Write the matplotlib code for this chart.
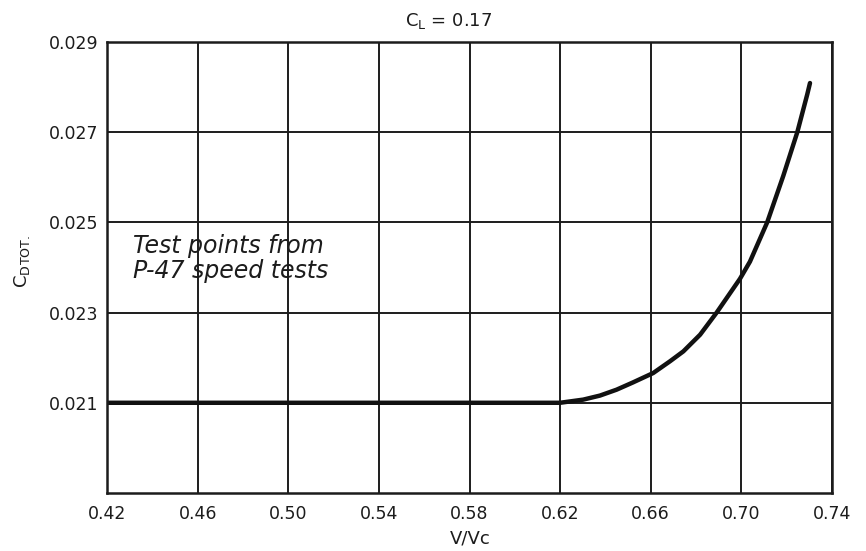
import matplotlib
matplotlib.use("Agg")
import matplotlib.pyplot as plt

# Data
v_ratio = [0.42, 0.62, 0.6302, 0.6376, 0.6449, 0.6521, 0.6611, 0.6685, 0.6744, 0.6818,
           0.6891, 0.6994, 0.7038, 0.7114, 0.7185, 0.7247, 0.7291, 0.7303]
cd_tot = [0.02100, 0.02100, 0.02107, 0.02116, 0.02129, 0.02145, 0.02166, 0.02192, 0.02214, 0.02251,
          0.02300, 0.02375, 0.02413, 0.02500, 0.02603, 0.02700, 0.02784, 0.02809]

x_ticks = [0.42, 0.46, 0.50, 0.54, 0.58, 0.62, 0.66, 0.70, 0.74]
x_tick_labels = ["0.42", "0.46", "0.50", "0.54", "0.58", "0.62", "0.66", "0.70", "0.74"]
y_ticks = [0.021, 0.023, 0.025, 0.027, 0.029]
y_tick_labels = ["0.021", "0.023", "0.025", "0.027", "0.029"]

ink = "#1c1c1c"
plt.rcParams['font.family'] = ['DejaVu Sans']

fig = plt.figure(figsize=(8.66, 5.51), dpi=100)
fig.patch.set_facecolor("white")
ax = fig.add_axes([0.1236, 0.1053, 0.8371, 0.8185])
ax.set_xlim(0.42, 0.74)
ax.set_ylim(0.019, 0.029)

ax.set_xticks(x_ticks)
ax.set_xticklabels(x_tick_labels)
ax.set_yticks(y_ticks)
ax.set_yticklabels(y_tick_labels)
ax.tick_params(length=0, labelsize=12.5, colors=ink)
ax.tick_params(axis="x", pad=9)
ax.tick_params(axis="y", pad=6)
for s in ax.spines.values():
    s.set_linewidth(1.8)
    s.set_color(ink)

ax.grid(True, color=ink, linewidth=1.4)
ax.set_axisbelow(True)

ax.plot(v_ratio, cd_tot, color="#111111", linewidth=3.2,
        solid_capstyle="round", solid_joinstyle="round")

ax.text(0.4315, 0.02474, "Test points from\nP-47 speed tests", fontsize=17, style="italic",
        color=ink, va="top", ha="left", linespacing=1.05)

fig.text(0.518, 0.962, r"C$_\mathregular{L}$ = 0.17", ha="center", va="center", fontsize=13, color=ink)
fig.text(0.025, 0.525, r"C$_\mathregular{D}$$_\mathregular{TOT.}$", rotation=90, ha="center", va="center",
         fontsize=13, color=ink)
fig.text(0.543, 0.022, "V/Vc", ha="center", va="center", fontsize=13, color=ink)

fig.savefig("out.png", dpi=100, facecolor="white")
